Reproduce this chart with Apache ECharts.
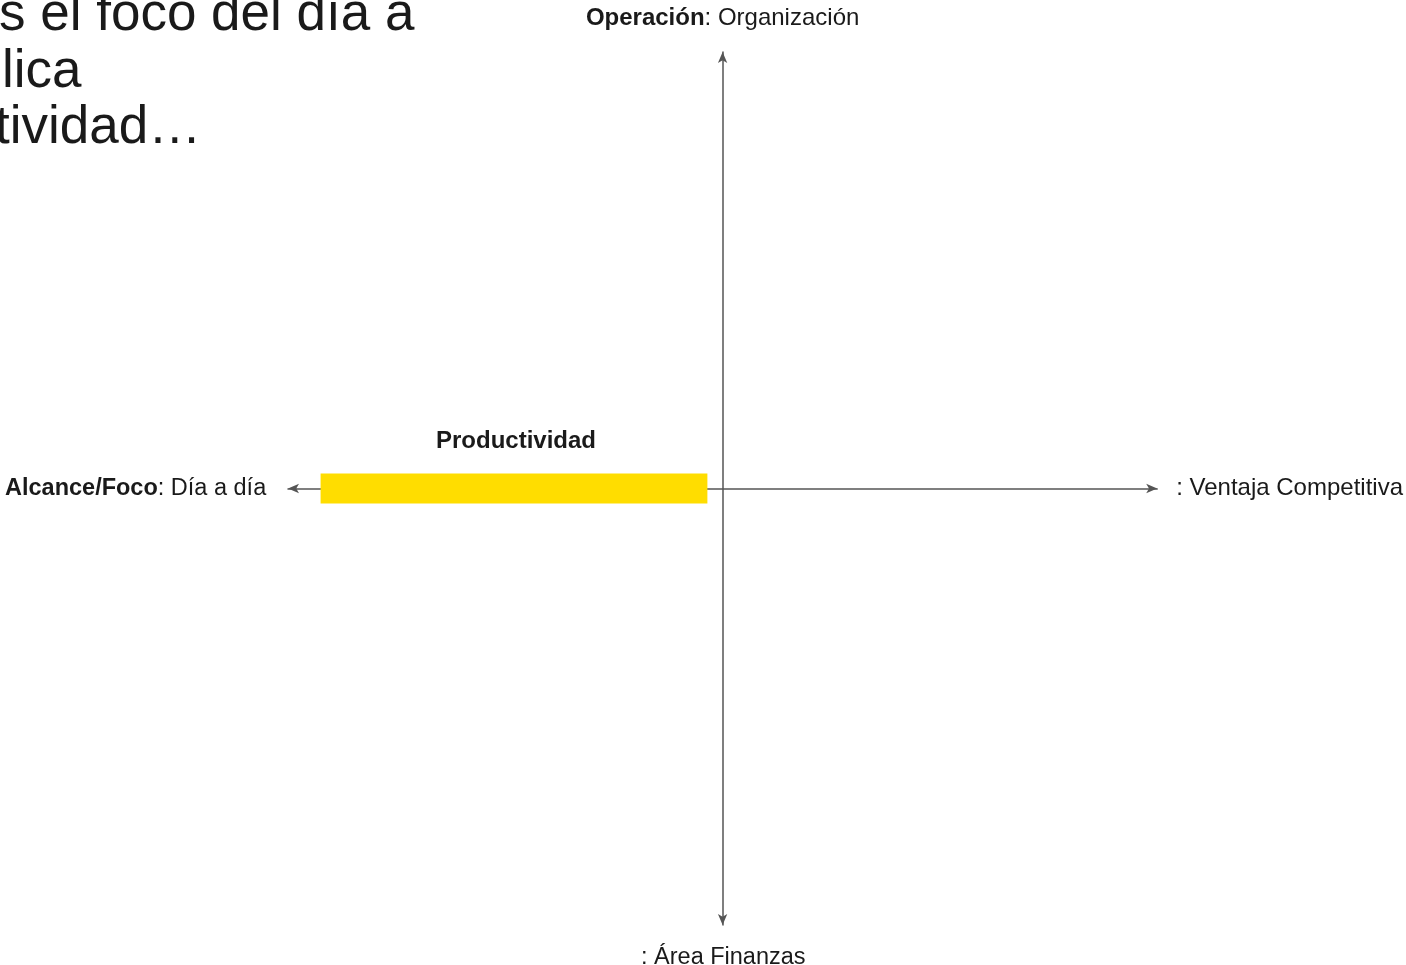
<!DOCTYPE html>
<html lang="es">
<head>
    <meta charset="UTF-8">
    <title>Productividad</title>
    <script src="https://cdn.jsdelivr.net/npm/echarts@6/dist/echarts.min.js"></script>
    <style>
        html, body { margin: 0; padding: 0; background: #fff; }
        #main { width: 1406px; height: 965px; }
    </style>
</head>
<body>
<div id="main"></div>
<script type="text/javascript">
    // datos
    var barNames = ['Productividad'];
    var barStart = [-92.5];
    var barEnd = [-3.5];
    var axisMin = -100;
    var axisMax = 100;
    var titleLines = ['s el foco del día a', 'lica', 'tividad…'];

    var font = '"Liberation Sans", Arial, Helvetica, sans-serif';
    var ink = '#1a1a1a';
    var lineColor = '#555555';

    var myChart = echarts.init(document.getElementById('main'));

    var barData = barNames.map(function (n, i) {
        return [barStart[i], barEnd[i], n];
    });

    var option = {
        backgroundColor: '#ffffff',
        animation: false,
        textStyle: { fontFamily: font },
        grid: { left: 288, right: 246, top: 52, bottom: 40 },
        xAxis: {
            type: 'value',
            min: axisMin,
            max: axisMax,
            axisLine: {
                show: true,
                onZero: true,
                symbol: ['arrow', 'arrow'],
                symbolSize: [7, 11],
                lineStyle: { color: lineColor, width: 1.5 }
            },
            axisTick: { show: false },
            axisLabel: { show: false },
            splitLine: { show: false },
            name: ': Ventaja Competitiva',
            nameLocation: 'end',
            nameGap: 19,
            nameTextStyle: { fontSize: 24, color: ink, fontFamily: font }
        },
        yAxis: {
            type: 'value',
            min: axisMin,
            max: axisMax,
            axisLine: {
                show: true,
                onZero: true,
                symbol: ['arrow', 'arrow'],
                symbolSize: [7, 11],
                lineStyle: { color: lineColor, width: 1.5 }
            },
            axisTick: { show: false },
            axisLabel: { show: false },
            splitLine: { show: false },
            name: '{b|Operación}: Organización',
            nameLocation: 'end',
            nameGap: 22,
            nameTextStyle: {
                fontSize: 24, color: ink, fontFamily: font,
                rich: { b: { fontWeight: 'bold', fontSize: 24, color: ink, fontFamily: font } }
            }
        },
        graphic: [
            {
                type: 'text', left: 5, top: 477,
                style: {
                    text: '{b|Alcance/Foco}: Día a día',
                    font: '23.5px ' + font, fill: ink,
                    rich: { b: { fontWeight: 'bold', fontSize: 23.5, fill: ink, fontFamily: font } }
                }
            },
            {
                type: 'text', left: 641, top: 946,
                style: { text: ': Área Finanzas', font: '23.5px ' + font, fill: ink }
            },
            {
                type: 'text', left: -1, top: -11,
                style: { text: titleLines[0], font: '53px ' + font, fill: ink }
            },
            {
                type: 'text', left: 2, top: 46,
                style: { text: titleLines[1], font: '53px ' + font, fill: ink }
            },
            {
                type: 'text', left: -5, top: 102,
                style: { text: titleLines[2], font: '53px ' + font, fill: ink }
            }
        ],
        series: [
            {
                type: 'custom',
                data: barData,
                renderItem: function (params, api) {
                    var p0 = api.coord([api.value(0), 0]);
                    var p1 = api.coord([api.value(1), 0]);
                    var h = 30;
                    return {
                        type: 'group',
                        children: [
                            {
                                type: 'rect',
                                shape: { x: p0[0], y: p0[1] - h / 2, width: p1[0] - p0[0], height: h },
                                style: { fill: '#FFDD00' }
                            },
                            {
                                type: 'text',
                                style: {
                                    text: barNames[params.dataIndex],
                                    x: (p0[0] + p1[0]) / 2 + 2,
                                    y: p0[1] - 47,
                                    align: 'center',
                                    verticalAlign: 'middle',
                                    font: 'bold 24px ' + font,
                                    fill: ink
                                }
                            }
                        ]
                    };
                },
                z: 1
            }
        ]
    };

    option && myChart.setOption(option);
</script>
</body>
</html>
